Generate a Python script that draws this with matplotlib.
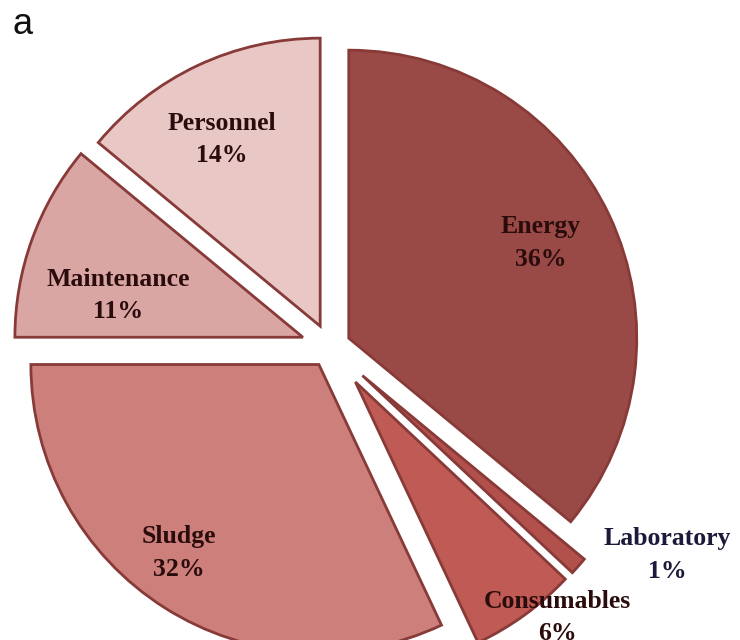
import numpy as np
import matplotlib.pyplot as plt

# cost breakdown, clockwise from 12 o'clock
labels = ["Energy", "Laboratory", "Consumables", "Sludge", "Maintenance", "Personnel"]
shares = [36, 1, 6, 32, 11, 14]
colors = ["#9A4A46", "#B2504C", "#C05A54", "#CD7F7C", "#D9A6A4", "#E8C7C5"]
pull = [0.072, 0.15, 0.15, 0.072, 0.10, 0.08]  # fraction of radius

# label anchors (figure pixels, y measured from top)
label_xy = {
    "Energy": (541, 243),
    "Laboratory": (667, 555),
    "Consumables": (557, 618),
    "Sludge": (179, 553),
    "Maintenance": (118, 296),
    "Personnel": (222, 139),
}
label_colors = {"Laboratory": "#1C1A3A"}

W, H = 740, 640
fig = plt.figure(figsize=(W / 100, H / 100), dpi=100)
ax = fig.add_axes([0, 0, 1, 1])

cx, cy, R = 330, 347, 288
# pie's explode is an absolute offset, so scale by the radius
wedges, _ = ax.pie(shares, radius=R, center=(cx, -cy), startangle=90,
                   counterclock=False, explode=[p * R for p in pull],
                   colors=colors,
                   wedgeprops=dict(edgecolor="#883A38", linewidth=2.0))

ax.set_xlim(0, W)
ax.set_ylim(-H, 0)
ax.set_aspect("equal")
ax.axis("off")

for name, val in zip(labels, shares):
    x, y = label_xy[name]
    ax.text(x, -y, f"{name}\n{val}%", ha="center", va="center",
            fontsize=18.5, fontweight="bold", family="Liberation Serif",
            color=label_colors.get(name, "#2A0C0C"), linespacing=1.5)

fig.text(13 / W, 1 - 25 / H, "a", ha="left", va="center", fontsize=26,
         family="Liberation Sans", color="#111111")

fig.savefig("out.png", dpi=100)
